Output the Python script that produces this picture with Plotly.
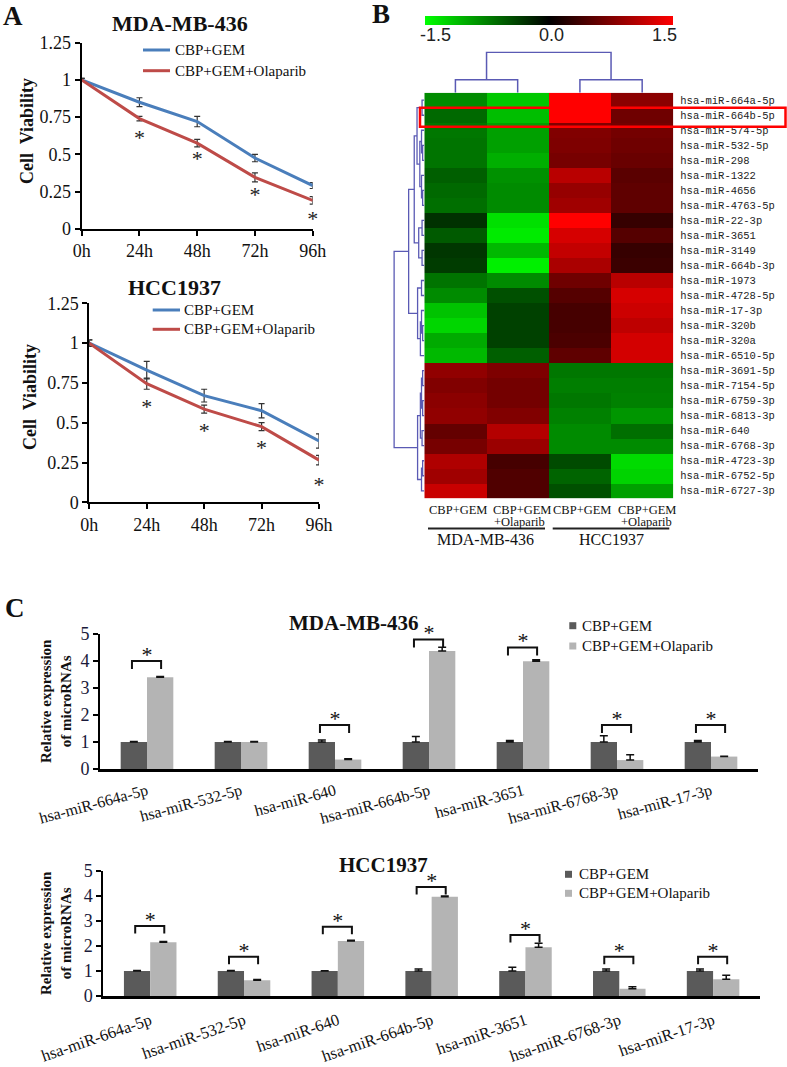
import plotly.graph_objects as go

W, H = 787, 1067
def px(x): return x / W
def py(y): return 1 - y / H

SERIF = "Liberation Serif"
BLUE = "#4a7ebb"
RED = "#be4b48"
DARK = "#5a5a5a"
LIGHT = "#b4b4b4"
DENDRO = "#5a5ab4"

# ---------------- Panel A data ----------------
time_labels = ["0h", "24h", "48h", "72h", "96h"]
mda_gem = [1.0, 0.85, 0.72, 0.475, 0.29]
mda_gem_err = [0.01, 0.03, 0.035, 0.025, 0.02]
mda_ola = [1.0, 0.74, 0.575, 0.345, 0.19]
mda_ola_err = [0.01, 0.015, 0.025, 0.03, 0.025]
mda_star = [None, 0.60, 0.46, 0.215, 0.055]
hcc_gem = [1.0, 0.83, 0.67, 0.575, 0.385]
hcc_gem_err = [0.02, 0.055, 0.04, 0.045, 0.045]
hcc_ola = [1.0, 0.745, 0.585, 0.475, 0.265]
hcc_ola_err = [0.02, 0.035, 0.025, 0.025, 0.03]
hcc_star = [None, 0.59, 0.44, 0.33, 0.10]
viab_ticks = [0, 0.25, 0.5, 0.75, 1, 1.25]
viab_ticktext = ["0", "0.25", "0.5", "0.75", "1", "1.25"]

# ---------------- Panel B data ----------------
heat_rows = ["hsa-miR-664a-5p", "hsa-miR-664b-5p", "hsa-miR-574-5p", "hsa-miR-532-5p",
             "hsa-miR-298", "hsa-miR-1322", "hsa-miR-4656", "hsa-miR-4763-5p",
             "hsa-miR-22-3p", "hsa-miR-3651", "hsa-miR-3149", "hsa-miR-664b-3p",
             "hsa-miR-1973", "hsa-miR-4728-5p", "hsa-miR-17-3p", "hsa-miR-320b",
             "hsa-miR-320a", "hsa-miR-6510-5p", "hsa-miR-3691-5p", "hsa-miR-7154-5p",
             "hsa-miR-6759-3p", "hsa-miR-6813-3p", "hsa-miR-640", "hsa-miR-6768-3p",
             "hsa-miR-4723-3p", "hsa-miR-6752-5p", "hsa-miR-6727-3p"]
heat_cols = ["CBP+GEM", "CBP+GEM", "CBP+GEM", "CBP+GEM"]
heat_cols2 = ["", "+Olaparib", "", "+Olaparib"]
heat_groups = ["MDA-MB-436", "HCC1937"]
z_mda_gem = [-0.82, -0.62, -0.70, -0.68, -0.68, -0.56, -0.62, -0.65, -0.29, -0.53, -0.32, -0.35,
             -0.68, -0.82, -1.15, -1.26, -1.00, -1.09, 0.85, 0.76, 0.82, 0.85, 0.59, 0.70,
             1.03, 0.94, 1.18]
z_mda_ola = [-1.18, -1.12, -0.94, -0.94, -1.03, -0.85, -0.82, -0.82, -1.32, -1.38, -1.09, -1.41,
             -0.82, -0.47, -0.38, -0.38, -0.38, -0.56, 0.74, 0.68, 0.68, 0.76, 1.06, 0.91,
             0.41, 0.47, 0.47]
z_hcc_gem = [1.50, 1.50, 0.76, 0.74, 0.70, 1.09, 0.88, 0.94, 1.50, 1.26, 1.15, 1.00,
             0.65, 0.50, 0.41, 0.41, 0.44, 0.56, -0.70, -0.74, -0.70, -0.76, -0.82, -0.82,
             -0.44, -0.59, -0.47]
z_hcc_ola = [0.82, 0.65, 0.68, 0.65, 0.62, 0.53, 0.56, 0.56, 0.32, 0.50, 0.32, 0.35,
             1.09, 1.26, 1.20, 1.12, 1.24, 1.24, -0.70, -0.74, -0.76, -0.88, -0.65, -0.82,
             -1.29, -1.24, -0.94]
highlight_row = 1
# dendrogram trees: [height, left, right]; leaves are row / column indices
row_tree = [27,
            [14,
             [9,
              [6.5, [2, 0, 1], [4, [2.5, 2, [1.5, 3, 4]], [2.5, 5, [1.5, 6, 7]]]],
              [5, [2, 8, 9], [2, 10, 11]]],
             [6, [2.5, 12, 13], [3.5, [2.5, 14, [1.5, 15, 16]], 17]]],
            [6,
             [3.5, [2.5, [1.5, 18, 19], [1.5, 20, 21]], [2, 22, 23]],
             [2.5, [1.5, 24, 25], 26]]]
col_tree = [1.0, [0.32, 0, 1], [0.32, 2, 3]]

# ---------------- Panel C data ----------------
mirs = ["hsa-miR-664a-5p", "hsa-miR-532-5p", "hsa-miR-640", "hsa-miR-664b-5p",
        "hsa-miR-3651", "hsa-miR-6768-3p", "hsa-miR-17-3p"]
c_mda_gem = [1.0, 1.0, 1.0, 1.0, 1.0, 1.0, 1.0]
c_mda_gem_err = [0.02, 0.02, 0.07, 0.2, 0.06, 0.23, 0.06]
c_mda_ola = [3.4, 1.0, 0.35, 4.37, 3.99, 0.33, 0.46]
c_mda_ola_err = [0.03, 0.02, 0.03, 0.14, 0.06, 0.2, 0.01]
c_mda_sig = [4.0, None, 1.63, 4.8, 4.5, 1.63, 1.63]
c_hcc_gem = [1.0, 1.0, 1.0, 1.0, 1.0, 1.0, 1.0]
c_hcc_gem_err = [0.02, 0.02, 0.01, 0.08, 0.15, 0.08, 0.08]
c_hcc_ola = [2.15, 0.63, 2.2, 3.97, 1.95, 0.29, 0.67]
c_hcc_ola_err = [0.03, 0.03, 0.03, 0.03, 0.16, 0.08, 0.16]
c_hcc_sig = [2.8, 1.57, 2.77, 4.36, 2.44, 1.57, 1.57]

fig = go.Figure()
xs = list(range(len(time_labels)))

# ---------------- Panel A traces ----------------
def add_lines(n, gem, gem_err, ola, ola_err, star):
    xa, ya = ("x", "y") if n == 1 else ("x%d" % n, "y%d" % n)
    for vals, err, col in ((gem, gem_err, BLUE), (ola, ola_err, RED)):
        fig.add_trace(go.Scatter(x=xs, y=vals, xaxis=xa, yaxis=ya, mode="lines",
                                 line=dict(color=col, width=3), showlegend=False,
                                 cliponaxis=False,
                                 error_y=dict(type="data", array=err, color="#333333",
                                              thickness=1.2, width=3)))
    fig.add_trace(go.Scatter(x=xs, y=star, xaxis=xa, yaxis=ya, mode="text", text=["*"] * 5,
                             textfont=dict(family=SERIF, size=22, color="#222"),
                             showlegend=False, cliponaxis=False))

add_lines(1, mda_gem, mda_gem_err, mda_ola, mda_ola_err, mda_star)
add_lines(2, hcc_gem, hcc_gem_err, hcc_ola, hcc_ola_err, hcc_star)

# ---------------- Panel B traces ----------------
z = [[a, b, c, d] for a, b, c, d in zip(z_mda_gem, z_mda_ola, z_hcc_gem, z_hcc_ola)]
fig.add_trace(go.Heatmap(z=z, x=[0, 1, 2, 3], y=list(range(len(heat_rows))),
                         xaxis="x3", yaxis="y3", zmin=-1.5, zmax=1.5,
                         colorscale=[[0, "#00ff00"], [0.5, "#000000"], [1, "#ff0000"]],
                         colorbar=dict(orientation="h", x=px(548.8), xanchor="center",
                                       y=py(16.5), yanchor="top", len=248, lenmode="pixels",
                                       thickness=9, outlinewidth=0, xpad=0, ypad=0,
                                       showticklabels=False, ticks=""),
                         hoverinfo="skip"))

def dendro(node, segs_a, segs_b):
    if isinstance(node, int):
        return float(node), 0.0
    h, l, r = node
    pl, hl = dendro(l, segs_a, segs_b)
    pr, hr = dendro(r, segs_a, segs_b)
    segs_a += [hl, h, h, hr, None]
    segs_b += [pl, pl, pr, pr, None]
    return (pl + pr) / 2, h

rh, rp = [], []
dendro(row_tree, rh, rp)
fig.add_trace(go.Scatter(x=rh, y=rp, xaxis="x5", yaxis="y5", mode="lines",
                         line=dict(color=DENDRO, width=1.3), showlegend=False, hoverinfo="skip"))
ch, cp = [], []
dendro(col_tree, ch, cp)
fig.add_trace(go.Scatter(x=cp, y=ch, xaxis="x4", yaxis="y4", mode="lines",
                         line=dict(color=DENDRO, width=1.5), showlegend=False, hoverinfo="skip"))

# ---------------- Panel C traces ----------------
gx = list(range(len(mirs)))
def add_bars(n, gem, gem_err, ola, ola_err, sig):
    xa, ya = "x%d" % n, "y%d" % n
    for vals, err, col, nm in ((gem, gem_err, DARK, "CBP+GEM"), (ola, ola_err, LIGHT, "CBP+GEM+Olaparib")):
        fig.add_trace(go.Bar(x=gx, y=vals, xaxis=xa, yaxis=ya, marker=dict(color=col, line=dict(width=0)),
                             name=nm, showlegend=False, offsetgroup=nm,
                             error_y=dict(type="data", symmetric=False, array=err,
                                          arrayminus=[0] * len(err), color="#111",
                                          thickness=1.5, width=4)))
    bx, by, sx, sy = [], [], [], []
    for i, b in enumerate(sig):
        if b is None:
            continue
        bx += [i - 0.16, i - 0.16, i + 0.15, i + 0.15, None]
        by += [b - 0.3, b, b, b - 0.3, None]
        sx.append(i)
        sy.append(b + 0.17)
    fig.add_trace(go.Scatter(x=bx, y=by, xaxis=xa, yaxis=ya, mode="lines",
                             line=dict(color="#111", width=2), showlegend=False, cliponaxis=False))
    fig.add_trace(go.Scatter(x=sx, y=sy, xaxis=xa, yaxis=ya, mode="text", text=["*"] * len(sx),
                             textfont=dict(family=SERIF, size=22, color="#111"),
                             showlegend=False, cliponaxis=False))

add_bars(6, c_mda_gem, c_mda_gem_err, c_mda_ola, c_mda_ola_err, c_mda_sig)
add_bars(7, c_hcc_gem, c_hcc_gem_err, c_hcc_ola, c_hcc_ola_err, c_hcc_sig)

# ---------------- Layout ----------------
tickfont = dict(family=SERIF, size=18, color="#111")
def line_x(dom, anchor):
    return dict(domain=dom, anchor=anchor, range=[0, 4], tickvals=xs, ticktext=time_labels,
                showline=True, linecolor="black", linewidth=2, ticks="outside", ticklen=5,
                tickwidth=1.5, tickcolor="black", tickfont=tickfont, showgrid=False, zeroline=False)
def line_y(dom, anchor):
    return dict(domain=dom, anchor=anchor, range=[0, 1.25], tickvals=viab_ticks, ticktext=viab_ticktext,
                showline=True, linecolor="black", linewidth=2, ticks="outside", ticklen=5,
                tickwidth=1.5, tickcolor="black", tickfont=tickfont, showgrid=False, zeroline=False)
def bar_x(dom, anchor, angle, size, standoff):
    return dict(domain=dom, anchor=anchor, range=[-0.5, 6.5], tickvals=gx, ticktext=mirs,
                tickangle=angle, tickfont=dict(family=SERIF, size=size, color="#111"),
                ticklabelstandoff=standoff,
                showline=True, linecolor="black", linewidth=2.5, ticks="", showgrid=False,
                zeroline=False)
def bar_y(dom, anchor):
    return dict(domain=dom, anchor=anchor, range=[0, 5], dtick=1, showline=True, linecolor="black",
                linewidth=2, ticks="outside", ticklen=5, tickwidth=1.5, tickcolor="black",
                tickfont=dict(family=SERIF, size=18, color="#1a1a3a"), showgrid=False, zeroline=False)

hidden = dict(showline=False, showticklabels=False, ticks="", showgrid=False, zeroline=False)

fig.update_layout(
    width=W, height=H, margin=dict(l=0, r=0, t=0, b=0, autoexpand=False),
    paper_bgcolor="white", plot_bgcolor="white",
    barmode="group", bargap=0.44, bargroupgap=0,
    xaxis=line_x([px(81.7), px(312.7)], "y"),
    yaxis=line_y([py(228.7), py(42.7)], "x"),
    xaxis2=line_x([px(89.3), px(319)], "y2"),
    yaxis2=line_y([py(502.3), py(303.3)], "x2"),
    xaxis3=dict(domain=[px(424.3), px(673.3)], anchor="y3", range=[-0.5, 3.5], **hidden),
    yaxis3=dict(domain=[py(498.3), py(92.7)], anchor="x3", range=[26.5, -0.5], side="right",
                tickvals=list(range(len(heat_rows))), ticktext=heat_rows, ticks="",
                tickfont=dict(family="Liberation Mono", size=10.5, color="#222"),
                ticklabelstandoff=6, showgrid=False, zeroline=False, showline=False),
    xaxis4=dict(domain=[px(424.3), px(673.3)], anchor="y4", range=[-0.5, 3.5], **hidden),
    yaxis4=dict(domain=[py(92.7), py(51.5)], anchor="x4", range=[0, 1.02], **hidden),
    xaxis5=dict(domain=[px(393), px(424.3)], anchor="y5", range=[28, 0], **hidden),
    yaxis5=dict(domain=[py(498.3), py(92.7)], anchor="x5", range=[26.5, -0.5], **hidden),
    xaxis6=bar_x([px(100), px(758)], "y6", -15, 16, 4),
    yaxis6=bar_y([py(769), py(634)], "x6"),
    xaxis7=bar_x([px(103.3), px(760)], "y7", -19, 16.5, 6),
    yaxis7=bar_y([py(996), py(871)], "x7"),
)

ann = []
def A(x, y, text, size, bold=False, angle=0, xanchor="center", family=SERIF, color="#111", align="center"):
    t = "<b>%s</b>" % text if bold else text
    ann.append(dict(x=px(x), y=py(y), xref="paper", yref="paper", text=t, showarrow=False,
                    font=dict(family=family, size=size, color=color), textangle=angle,
                    xanchor=xanchor, yanchor="middle", align=align))

# panel letters
A(13, 16, "A", 27, bold=True)
A(381, 14, "B", 27, bold=True)
A(15, 608, "C", 27, bold=True)
# panel A titles / axis titles / legends
A(180, 23, "MDA-MB-436", 22, bold=True)
A(174, 287, "HCC1937", 22, bold=True)
A(27, 131, "Cell  Viability", 18, bold=True, angle=-90)
A(30, 397, "Cell  Viability", 18, bold=True, angle=-90)
shapes = []
def legline(x0, x1, y, col):
    shapes.append(dict(type="line", xref="paper", yref="paper", x0=px(x0), x1=px(x1), y0=py(y), y1=py(y),
                       line=dict(color=col, width=3)))
legline(143, 170, 50, BLUE); A(173, 50, "CBP+GEM", 15, xanchor="left")
legline(143, 170, 70.7, RED); A(173, 70.7, "CBP+GEM+Olaparib", 15, xanchor="left")
legline(152.7, 180, 310, BLUE); A(182, 310, "CBP+GEM", 15, xanchor="left")
legline(152.7, 180, 329.3, RED); A(182, 329.3, "CBP+GEM+Olaparib", 15, xanchor="left")

# panel B colorbar labels, column labels
A(435, 35, "-1.5", 18, family="Liberation Sans", color="#222")
A(551.7, 35, "0.0", 18, family="Liberation Sans", color="#222")
A(664, 35, "1.5", 18, family="Liberation Sans", color="#222")
col_centers = [457.5, 521.5, 582.3, 647.3]
col2_centers = [457.5, 519.5, 582.3, 646.7]
for cx, cx2, lab, lab2 in zip(col_centers, col2_centers, heat_cols, heat_cols2):
    A(cx, 510, lab, 12.5)
    if lab2:
        A(cx2, 522.3, lab2, 12.5)
shapes.append(dict(type="line", xref="paper", yref="paper", x0=px(428), x1=px(545), y0=py(528.5), y1=py(528.5),
                   line=dict(color="#222", width=2)))
shapes.append(dict(type="line", xref="paper", yref="paper", x0=px(552.7), x1=px(669.3), y0=py(528.5), y1=py(528.5),
                   line=dict(color="#222", width=2)))
A(485.5, 539.5, heat_groups[0], 16)
A(611, 539.5, heat_groups[1], 16)
# highlight box
shapes.append(dict(type="rect", xref="paper", yref="y3", x0=px(420), x1=px(785.5),
                   y0=highlight_row - 0.5, y1=highlight_row + 0.77, line=dict(color="#ff0000", width=2.5)))

# panel C titles, axis titles, legends
A(353, 623, "MDA-MB-436", 21, bold=True)
A(383, 865, "HCC1937", 21, bold=True)
A(56, 701, "Relative expression<br>of microRNAs", 15, bold=True, angle=-90)
A(56, 933, "Relative expression<br>of microRNAs", 15, bold=True, angle=-90)
def legsq(x, y, col):
    shapes.append(dict(type="rect", xref="paper", yref="paper", x0=px(x), x1=px(x + 7), y0=py(y - 3.5),
                       y1=py(y + 3.5), line=dict(width=0), fillcolor=col))
legsq(569.3, 625.7, DARK); A(579.5, 625.7, "CBP+GEM", 15, xanchor="left")
legsq(569.3, 646, LIGHT); A(579.5, 646, "CBP+GEM+Olaparib", 15, xanchor="left")
legsq(565, 874.3, DARK); A(576.5, 874.3, "CBP+GEM", 15, xanchor="left")
legsq(565, 893.3, LIGHT); A(576.5, 893.3, "CBP+GEM+Olaparib", 15, xanchor="left")

fig.update_layout(annotations=ann, shapes=shapes)
fig.write_html("out.html", config={"displayModeBar": False},
               post_script="document.body.style.margin='0px';document.body.style.overflow='hidden';")
